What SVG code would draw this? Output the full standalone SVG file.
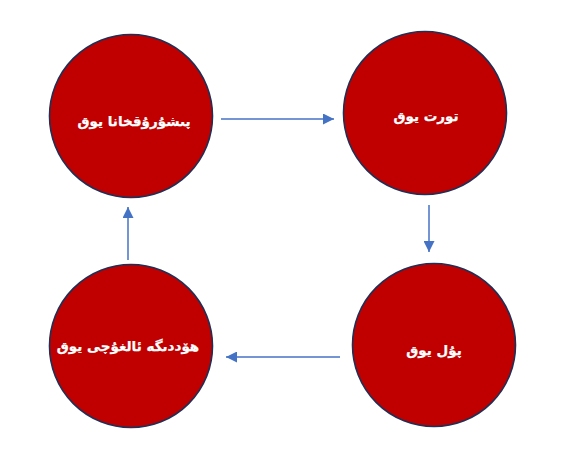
<svg xmlns="http://www.w3.org/2000/svg" width="567" height="458" viewBox="0 0 567 458">
<defs>
<style>
.node circle{fill:#C00000;stroke:#1F2F55;stroke-width:1.6}
.node text{fill:#FFFFFF;stroke:#FFFFFF;stroke-width:0.25;font-family:"DejaVu Sans","Noto Sans",sans-serif;font-weight:bold;font-size:13.5px;text-anchor:middle}
.conn line{stroke:#4472C4;stroke-width:1.5;fill:none}
</style>
<marker id="ah" viewBox="0 0 10 10" refX="10" refY="5" markerWidth="13" markerHeight="11" markerUnits="userSpaceOnUse" orient="auto">
<path d="M0,0 L10,5 L0,10 z" fill="#4472C4"/>
</marker>
</defs>
<rect width="567" height="458" fill="#FFFFFF"/>
<g id="connectors" class="conn">
<line x1="221" y1="119" x2="334" y2="119" marker-end="url(#ah)"/>
<line x1="429" y1="205" x2="429" y2="252" marker-end="url(#ah)"/>
<line x1="340" y1="357" x2="226" y2="357" marker-end="url(#ah)"/>
<line x1="128" y1="260" x2="128" y2="207" marker-end="url(#ah)"/>
</g>
<g id="node-bakery" class="node">
<circle cx="131" cy="116" r="81.5"/>
<text x="134" y="126" direction="rtl">پىشۇرۇقخانا يوق</text>
</g>
<g id="node-cake" class="node">
<circle cx="425" cy="113" r="81.5"/>
<text x="426" y="121" direction="rtl">تورت يوق</text>
</g>
<g id="node-money" class="node">
<circle cx="434" cy="345" r="81.5"/>
<text x="434" y="355" direction="rtl">پۇل يوق</text>
</g>
<g id="node-contractor" class="node">
<circle cx="131" cy="346" r="81.5"/>
<text x="128" y="351" direction="rtl">ھۆددىگە ئالغۇچى يوق</text>
</g>
</svg>
